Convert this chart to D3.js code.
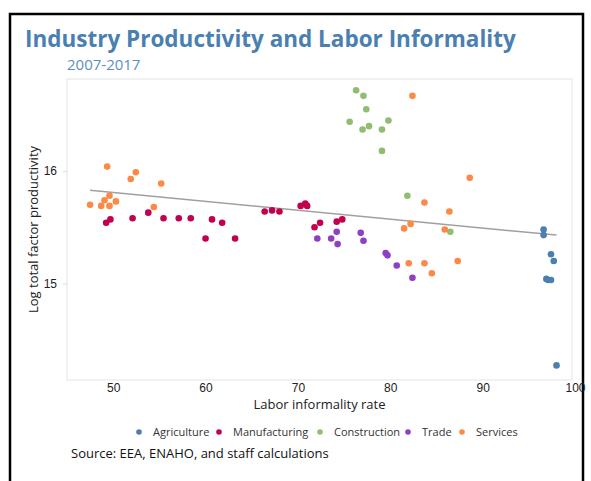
<!DOCTYPE html>
<html><head><meta charset="utf-8">
<script src="https://cdn.jsdelivr.net/npm/d3@7"></script>
<style>body{margin:0;background:#fff}svg{font-family:"Open Sans","Noto Sans",sans-serif}</style>
</head><body><svg id="c" width="591" height="481"></svg>
<script>
const categories=["Agriculture","Manufacturing","Construction","Trade","Services"];
const colors=["#4a7fb0","#c2004f","#91bd72","#8e3fc6","#fa8a45"];
const agriculture=[[96.6,15.48],[96.6,15.43],[97.4,15.26],[97.7,15.20],[96.9,15.04],[97.1,15.03],[97.4,15.03],[98.0,14.27]];
const manufacturing=[[49.24,15.54],[49.7,15.57],[52.1,15.58],[53.8,15.63],[55.45,15.58],[57.1,15.58],[58.4,15.58],[60.0,15.40],[60.7,15.57],[61.8,15.54],[63.2,15.40],[66.4,15.64],[67.2,15.65],[68.0,15.64],[70.3,15.69],[70.8,15.71],[71.0,15.69],[71.8,15.50],[72.4,15.54],[74.2,15.55],[74.8,15.57]];
const construction=[[76.3,16.72],[77.1,16.67],[77.4,16.55],[75.6,16.44],[77.7,16.40],[77.0,16.37],[79.1,16.37],[79.8,16.45],[79.1,16.18],[81.85,15.78],[86.5,15.46]];
const trade=[[72.1,15.40],[73.6,15.40],[74.2,15.46],[74.3,15.35],[76.8,15.45],[77.1,15.38],[79.5,15.27],[79.7,15.25],[80.7,15.16],[82.4,15.05]];
const services=[[47.5,15.70],[49.35,16.04],[48.7,15.69],[49.06,15.74],[49.6,15.78],[49.6,15.69],[50.3,15.73],[51.9,15.93],[52.45,15.99],[55.2,15.89],[54.4,15.68],[82.4,16.67],[88.6,15.94],[83.7,15.72],[86.4,15.64],[81.5,15.49],[82.2,15.53],[85.9,15.48],[82.0,15.18],[83.7,15.18],[84.5,15.09],[87.3,15.20]];
const seriesData=[agriculture,manufacturing,construction,trade,services];
const trendX=[47.5,98.0], trendY=[15.83,15.43];
const xTicks=[50,60,70,80,90,100], yTicks=[15,16];

const svg=d3.select("#c");
const L=67,R=572,T=79,B=380;
const x=d3.scaleLinear().domain([45,100]).range([L,575]);
const y=d3.scaleLinear().domain([14.14,16.82]).range([B,T]);

svg.append("path").attr("d",`M10,481V14H583V481`).attr("fill","none").attr("stroke","#000").attr("stroke-width",2.5);
svg.append("text").attr("x",25).attr("y",47).attr("fill","#4a7fb0").attr("font-size",22.5).attr("font-weight","bold").text("Industry Productivity and Labor Informality");
svg.append("text").attr("x",67).attr("y",70).attr("fill","#5b8fbf").attr("font-size",15).text("2007-2017");

svg.append("rect").attr("x",L).attr("y",T).attr("width",R-L).attr("height",B-T).attr("fill","none").attr("stroke","#e3e3e3").attr("stroke-width",1);

const xa=svg.append("g").attr("transform",`translate(0,${B})`).call(d3.axisBottom(x).tickValues(xTicks).tickSize(0).tickPadding(3));
xa.select(".domain").remove();
xa.selectAll("text").attr("font-size",12).attr("fill","#222");
const ya=svg.append("g").attr("transform",`translate(${L},0)`).call(d3.axisLeft(y).tickValues(yTicks).tickFormat(d3.format("d")).tickSize(4).tickPadding(6));
ya.select(".domain").remove();
ya.selectAll("line").attr("stroke","#ddd");
ya.selectAll("text").attr("font-size",12).attr("fill","#222");

svg.append("text").attr("x",(L+R)/2).attr("y",409).attr("text-anchor","middle").attr("font-size",13).attr("fill","#222").text("Labor informality rate");
svg.append("text").attr("transform",`translate(38,${(T+B)/2})rotate(-90)`).attr("text-anchor","middle").attr("font-size",13).attr("fill","#222").text("Log total factor productivity");

const line=d3.line().x(d=>x(d[0])).y(d=>y(d[1]));
svg.append("path").attr("d",line(trendX.map((v,i)=>[v,trendY[i]]))).attr("stroke","#a0a0a0").attr("stroke-width",1.5).attr("fill","none");

seriesData.forEach((s,i)=>{
  svg.append("g").selectAll("circle").data(s).join("circle")
   .attr("cx",d=>x(d[0])).attr("cy",d=>y(d[1])).attr("r",3.3).attr("fill",colors[i]);
});

const legend=svg.append("g");
categories.forEach((c,i)=>{
  const lxs=[139,219,320,408,462][i];
  legend.append("circle").attr("cx",lxs).attr("cy",432).attr("r",2.8).attr("fill",colors[i]);
  legend.append("text").attr("x",lxs+14).attr("y",436).attr("font-size",11).attr("fill","#333").text(c);
});
svg.append("text").attr("x",71).attr("y",458).attr("font-size",13).attr("fill","#111").text("Source: EEA, ENAHO, and staff calculations");
</script></body></html>
